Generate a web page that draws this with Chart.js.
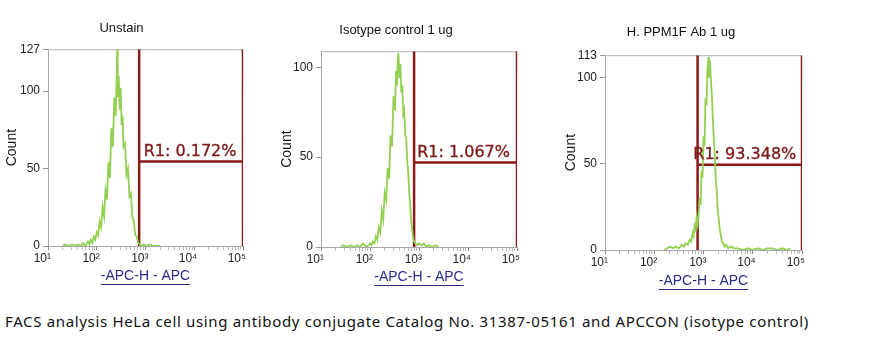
<!DOCTYPE html>
<html>
<head>
<meta charset="utf-8">
<script src="https://cdn.jsdelivr.net/npm/chart.js@4.4.1/dist/chart.umd.min.js"></script>
<style>
  html, body { margin: 0; padding: 0; background: #fff; }
  body { width: 881px; height: 352px; position: relative; overflow: hidden; }
  canvas { position: absolute; top: 0; }
  #caption {
    position: absolute; left: 5px; top: 311px;
    font: 15px "Noto Sans", "Open Sans", sans-serif; color: #111; white-space: nowrap;
    letter-spacing: 0.66px;
  }
</style>
</head>
<body>
<canvas id="c1"></canvas>
<canvas id="c2"></canvas>
<canvas id="c3"></canvas>
<div id="caption">FACS analysis HeLa cell using antibody conjugate Catalog No. 31387-05161 and APCCON (isotype control)</div>
<script>
// ====== DATA ======
// x = log10 of APC-H intensity (decade position), y = count
const TITLES = ['Unstain', 'Isotype control 1 ug', 'H. PPM1F Ab 1 ug'];
const X_LABEL = '-APC-H - APC';
const Y_LABEL = 'Count';

const UNSTAIN_LOG = [1.30,1.36,1.42,1.50,1.56,1.62,1.68,1.72,1.76,1.79,
  1.82,1.85,1.88,1.91,1.94,1.97,2.00,2.03,2.06,2.09,
  2.12,2.15,2.18,2.21,2.24,2.27,2.30,2.33,2.36,2.39,
  2.41,2.42,2.43,2.45,2.47,2.49,2.51,2.53,2.55,2.58,
  2.61,2.64,2.67,2.70,2.73,2.76,2.79,2.82,2.85,2.88,
  2.91,2.96,3.02,3.10,3.16,3.30];
const UNSTAIN_COUNT = [0,1,0,1,0,1,0,2,0,1,
  3,1,4,2,6,4,9,7,16,12,
  25,19,36,30,54,44,76,64,96,84,
  112,127,96,110,88,102,78,84,64,66,
  46,50,32,34,19,16,7,6,2,1,
  0,1,0,1,0,0];

const ISOTYPE_LOG = [1.40,1.46,1.52,1.60,1.66,1.74,1.80,1.86,1.92,1.97,
  2.00,2.03,2.06,2.09,2.12,2.15,2.18,2.21,2.24,2.27,
  2.30,2.33,2.36,2.39,2.42,2.45,2.48,2.51,2.53,2.55,
  2.57,2.58,2.60,2.62,2.64,2.66,2.68,2.70,2.72,2.74,
  2.76,2.78,2.80,2.82,2.84,2.86,2.88,2.90,2.93,2.96,
  3.00,3.05,3.10,3.15,3.20,3.26,3.34,3.40];
const ISOTYPE_COUNT = [0,1,0,1,0,1,0,2,0,1,
  2,1,3,2,6,4,11,8,20,15,
  30,26,44,38,62,56,84,76,98,90,
  106,108,94,102,86,90,74,76,62,60,
  48,42,30,24,14,10,5,3,2,1,
  2,1,2,0,1,0,1,0];

const PPM1F_LOG = [2.20,2.26,2.32,2.38,2.44,2.50,2.56,2.60,2.64,2.68,
  2.72,2.75,2.78,2.80,2.82,2.84,2.86,2.88,2.90,2.92,
  2.94,2.96,2.98,3.00,3.02,3.04,3.06,3.08,3.10,3.11,
  3.13,3.15,3.17,3.19,3.21,3.23,3.25,3.27,3.29,3.31,
  3.33,3.35,3.37,3.40,3.43,3.46,3.50,3.56,3.62,3.70,
  3.80,3.90,4.00,4.10,4.20,4.30,4.40,4.50,4.60,4.70,
  4.76];
const PPM1F_COUNT = [0,1,2,1,2,1,3,2,4,3,
  6,5,10,8,14,12,19,15,20,30,
  26,46,42,66,60,88,84,104,112,100,
  110,98,90,76,64,54,40,34,22,18,
  12,9,5,4,2,3,1,2,1,1,
  0,1,0,1,0,1,1,0,1,0,
  1];

// R1 gate: start decade, end decade, level (count), label
const GATE_START = [2.87, 2.90, 2.88];
const GATE_END = [5, 5, 5];
const GATE_LEVEL = [54.5, 47, 49.4];
const GATE_TEXT = ['R1: 0.172%', 'R1: 1.067%', 'R1: 93.348%'];

const Y_MAX = [127, 109, 113];
const Y_TICKS = [[0, 50, 100, 127], [0, 50, 100], [0, 50, 100, 113]];
const X_DECADES = [1, 2, 3, 4, 5];

// ====== LAYOUT (per panel) ======
const PANELS = [
  { id: 'c1', left: 0,   width: 290, height: 286, yW: 48, xH: 40, padR: 47, tTop: 21,   tBot: 12.6, cntPad: 4.1, lblShift: -1 },
  { id: 'c2', left: 275, width: 274, height: 287, yW: 46, xH: 40, padR: 32, tTop: 22.8, tBot: 12.8, cntPad: 4.1, lblShift: -2 },
  { id: 'c3', left: 560, width: 313, height: 291, yW: 45, xH: 41, padR: 71, tTop: 24.5, tBot: 15.1, cntPad: 2.6, lblShift: -5 }
];
const SERIES = [
  [UNSTAIN_LOG, UNSTAIN_COUNT],
  [ISOTYPE_LOG, ISOTYPE_COUNT],
  [PPM1F_LOG, PPM1F_COUNT]
];

const GREEN = '#92d050';
const GATE_RED = '#8b1a1a';
const SUP = { 1: '\u00b9', 2: '\u00b2', 3: '\u00b3', 4: '\u2074', 5: '\u2075' };

// frame top/right in light gray
const framePlugin = {
  id: 'frame',
  beforeDatasetsDraw(chart) {
    const { ctx, chartArea: a } = chart;
    ctx.save();
    ctx.strokeStyle = '#b4b4b4';
    ctx.lineWidth = 1;
    ctx.beginPath();
    ctx.moveTo(a.left, a.top + 0.5);
    ctx.lineTo(a.right, a.top + 0.5);
    ctx.lineTo(a.right - 0.5, a.bottom);
    ctx.stroke();
    ctx.restore();
  }
};

// R1 label over the gate
const gateLabelPlugin = {
  id: 'gateLabel',
  afterDatasetsDraw(chart, args, opts) {
    const { ctx, scales } = chart;
    const x0 = scales.x.getPixelForValue(opts.start);
    const x1 = scales.x.getPixelForValue(opts.end);
    const y = scales.y.getPixelForValue(opts.level);
    ctx.save();
    ctx.font = '16px "DejaVu Sans", Verdana, sans-serif';
    ctx.fillStyle = '#7d1a1a';
    ctx.strokeStyle = '#7d1a1a';
    ctx.lineWidth = 0.35;
    ctx.textAlign = 'center';
    ctx.textBaseline = 'bottom';
    const cx = (x0 + x1) / 2 + opts.shift;
    ctx.fillText(opts.text, cx, y - 2);
    ctx.strokeText(opts.text, cx, y - 2);
    ctx.restore();
  }
};

// underline the x axis title
const underlinePlugin = {
  id: 'underline',
  afterDraw(chart) {
    const sc = chart.scales.x;
    const t = sc.options.title;
    const { ctx } = chart;
    ctx.save();
    ctx.font = '14px "Liberation Sans", Arial, sans-serif';
    const w = ctx.measureText(t.text).width;
    const cx = (sc.left + sc.right) / 2;
    const cy = sc.bottom - 8.4 - 1;
    ctx.strokeStyle = t.color;
    ctx.lineWidth = 1;
    ctx.beginPath();
    ctx.moveTo(cx - w / 2, Math.round(cy + 7) + 0.5);
    ctx.lineTo(cx + w / 2, Math.round(cy + 7) + 0.5);
    ctx.stroke();
    ctx.restore();
  }
};

function makePanel(i) {
  const p = PANELS[i];
  const cv = document.getElementById(p.id);
  cv.width = p.width;
  cv.height = p.height;
  cv.style.left = p.left + 'px';
  cv.style.width = p.width + 'px';
  cv.style.height = p.height + 'px';

  const [xs, ys] = SERIES[i];
  const hist = xs.map((x, k) => ({ x: x, y: ys[k] }));
  const g0 = GATE_START[i], g1 = GATE_END[i], lv = GATE_LEVEL[i], top = Y_MAX[i];
  const gate = [
    { x: g0, y: top }, { x: g0, y: 0 }, { x: g0, y: null },
    { x: g0, y: lv }, { x: g1, y: lv }, { x: g1, y: null },
    { x: g1, y: 0 }, { x: g1, y: top }
  ];

  return new Chart(cv, {
    type: 'line',
    data: {
      datasets: [
        { data: hist, borderColor: GREEN, borderWidth: 1.8, pointRadius: 0, tension: 0 },
        { data: gate, borderColor: GATE_RED, borderWidth: 2.5, pointRadius: 0, spanGaps: false }
      ]
    },
    options: {
      responsive: false,
      animation: false,
      devicePixelRatio: 1,
      layout: { padding: { left: 0, right: p.padR, top: 0, bottom: 0 } },
      plugins: {
        legend: { display: false },
        tooltip: { enabled: false },
        title: {
          display: true,
          text: TITLES[i],
          color: '#111',
          font: { family: '"Liberation Sans", Arial, sans-serif', size: 13, weight: 'normal' },
          padding: { top: p.tTop, bottom: p.tBot }
        },
        gateLabel: { start: g0, end: g1, level: lv, text: GATE_TEXT[i], shift: p.lblShift }
      },
      scales: {
        x: {
          type: 'linear',
          min: X_DECADES[0],
          max: X_DECADES[X_DECADES.length - 1],
          afterBuildTicks: (sc) => {
            const t = [];
            X_DECADES.forEach(d => {
              if (d === X_DECADES[X_DECADES.length - 1]) { t.push({ value: d }); return; }
              for (let k = 1; k <= 9; k++) t.push({ value: d + Math.log10(k) });
            });
            sc.ticks = t;
          },
          afterFit: (sc) => { sc.height = p.xH; },
          ticks: {
            autoSkip: false,
            maxRotation: 0,
            align: 'end',
            labelOffset: 3,
            padding: 1,
            color: '#222',
            font: { family: '"Liberation Sans", Arial, sans-serif', size: 12 },
            callback: (v) => {
              const r = Math.round(v);
              return Math.abs(v - r) < 1e-6 ? '10' + SUP[r] : '';
            }
          },
          grid: {
            drawOnChartArea: false,
            tickLength: 4,
            color: (c) => {
              const v = c.tick ? c.tick.value : 0;
              return Math.abs(v - Math.round(v)) < 1e-6 ? '#888' : '#bbb';
            }
          },
          border: { color: '#a8a8a8' },
          title: {
            display: true,
            text: X_LABEL,
            color: '#2b2b8a',
            font: { family: '"Liberation Sans", Arial, sans-serif', size: 14 },
            padding: { top: 0, bottom: 1 }
          }
        },
        y: {
          type: 'linear',
          min: 0,
          max: top,
          afterBuildTicks: (sc) => { sc.ticks = Y_TICKS[i].map(v => ({ value: v })); },
          afterFit: (sc) => { sc.width = p.yW; },
          ticks: {
            color: '#222',
            padding: 3,
            font: { family: '"Liberation Sans", Arial, sans-serif', size: 12 }
          },
          grid: { drawOnChartArea: false, tickLength: 5, color: '#999' },
          border: { color: '#a8a8a8' },
          title: {
            display: true,
            text: Y_LABEL,
            color: '#111',
            font: { family: '"Liberation Sans", Arial, sans-serif', size: 14 },
            padding: { top: p.cntPad, bottom: 0 }
          }
        }
      }
    },
    plugins: [framePlugin, gateLabelPlugin, underlinePlugin]
  });
}

[0, 1, 2].forEach(makePanel);
</script>
</body>
</html>
